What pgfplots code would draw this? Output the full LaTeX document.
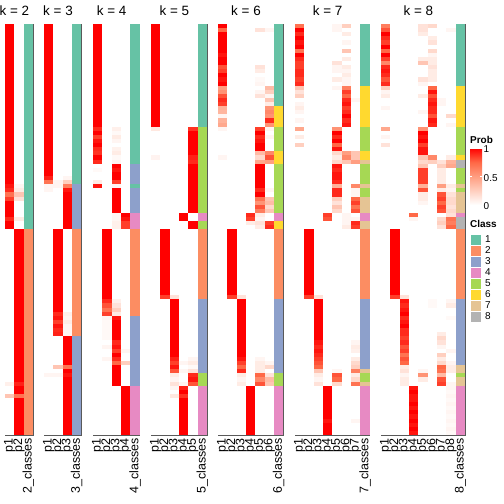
\documentclass[border=0pt]{standalone}
\usepackage{pgfplots}
\usepackage{pgfplotstable}
\pgfplotsset{compat=1.18}
\usepackage{fontspec}
\setmainfont{Liberation Sans}

\definecolor{cA}{RGB}{102,194,165}
\definecolor{cB}{RGB}{252,141,98}
\definecolor{cC}{RGB}{141,160,203}
\definecolor{cD}{RGB}{231,138,195}
\definecolor{cE}{RGB}{166,216,84}
\definecolor{cF}{RGB}{255,217,47}
\definecolor{cG}{RGB}{229,196,148}
\definecolor{cH}{RGB}{179,179,179}

\pgfdeclareplotmark{cell}{\pgfpathrectangle{\pgfqpoint{-4.72bp}{-2.1bp}}{\pgfqpoint{9.44bp}{4.2bp}}\pgfusepathqfill}
\pgfdeclareplotmark{lcell}{\pgfpathrectangle{\pgfqpoint{-5.5bp}{-5.5bp}}{\pgfqpoint{11bp}{11bp}}\pgfusepathqfillstroke}

\pgfplotstableread{
r a1 a2 cl
0 1 0 1
1 1 0 1
2 1 0 1
3 1 0 1
4 1 0 1
5 1 0 1
6 1 0 1
7 1 0 1
8 1 0 1
9 1 0 1
10 1 0 1
11 1 0 1
12 1 0 1
13 1 0 1
14 1 0 1
15 1 0 1
16 1 0 1
17 1 0 1
18 1 0 1
19 1 0 1
20 1 0 1
21 1 0 1
22 1 0 1
23 1 0 1
24 1 0 1
25 1 0 1
26 1 0 1
27 1 0 1
28 1 0 1
29 1 0 1
30 1 0 1
31 1 0 1
32 1 0 1
33 1 0 1
34 1 0 1
35 1 0 1
36 1 0 1
37 1 0 1
38 1 0 1
39 0.95 0.05 1
40 0.9 0.1 1
41 0.7 0.3 1
42 0.85 0.15 1
43 1 0 1
44 1 0 1
45 1 0 1
46 1 0 1
47 0.9 0.1 1
48 1 0 1
49 1 0 1
50 0 1 2
51 0 1 2
52 0 1 2
53 0 1 2
54 0 1 2
55 0 1 2
56 0 1 2
57 0 1 2
58 0 1 2
59 0 1 2
60 0 1 2
61 0 1 2
62 0 1 2
63 0 1 2
64 0 1 2
65 0 1 2
66 0 1 2
67 0 1 2
68 0 1 2
69 0 1 2
70 0 1 2
71 0 1 2
72 0 1 2
73 0 1 2
74 0 1 2
75 0 1 2
76 0 1 2
77 0 1 2
78 0 1 2
79 0 1 2
80 0 1 2
81 0 1 2
82 0 1 2
83 0 1 2
84 0 1 2
85 0 1 2
86 0 1 2
87 0.08 0.92 2
88 0 1 2
89 0 1 2
90 0.3 0.7 2
91 0 1 2
92 0 1 2
93 0 1 2
94 0 1 2
95 0 1 2
96 0 1 2
97 0 1 2
98 0 1 2
99 0 1 2
}\tKii

\pgfplotstableread{
r a1 a2 a3 cl
0 1 0 0 1
1 1 0 0 1
2 1 0 0 1
3 1 0 0 1
4 1 0 0 1
5 1 0 0 1
6 1 0 0 1
7 1 0 0 1
8 1 0 0 1
9 1 0 0 1
10 1 0 0 1
11 1 0 0 1
12 1 0 0 1
13 1 0 0 1
14 1 0 0 1
15 1 0 0 1
16 1 0 0 1
17 1 0 0 1
18 1 0 0 1
19 1 0 0 1
20 1 0 0 1
21 1 0 0 1
22 1 0 0 1
23 1 0 0 1
24 1 0 0 1
25 1 0 0 1
26 1 0 0 1
27 1 0 0 1
28 1 0 0 1
29 1 0 0 1
30 1 0 0 1
31 1 0 0 1
32 1 0 0 1
33 1 0 0 1
34 1 0 0 1
35 1 0 0 1
36 1 0 0 1
37 0.92 0 0.05 1
38 0.7 0.05 0.25 1
39 0.05 0.05 0.65 3
40 0.05 0 0.95 3
41 0 0 1 3
42 0 0 1 3
43 0 0 1 3
44 0 0 1 3
45 0 0 1 3
46 0 0 1 3
47 0 0 1 3
48 0 0 1 3
49 0 0 1 3
50 0 1 0 2
51 0 1 0 2
52 0 1 0 2
53 0 1 0 2
54 0 1 0 2
55 0 1 0 2
56 0 1 0 2
57 0 1 0 2
58 0 1 0 2
59 0 1 0 2
60 0 1 0 2
61 0 1 0 2
62 0 1 0 2
63 0 1 0 2
64 0 1 0 2
65 0 1 0 2
66 0 1 0 2
67 0 1 0 2
68 0 1 0 2
69 0 1 0 2
70 0 0.9 0.08 2
71 0 0.95 0.05 2
72 0 0.85 0.1 2
73 0 0.95 0.05 2
74 0 0.9 0.05 2
75 0 0.92 0.05 2
76 0 0 1 3
77 0 0 1 3
78 0 0 1 3
79 0 0 1 3
80 0 0 1 3
81 0 0 1 3
82 0 0 1 3
83 0 0.3 0.7 3
84 0 0 1 3
85 0.05 0.05 0.95 3
86 0 0 1 3
87 0 0 1 3
88 0 0 1 3
89 0 0 1 3
90 0 0 1 3
91 0 0 1 3
92 0 0 1 3
93 0 0 1 3
94 0 0 1 3
95 0 0 1 3
96 0 0 1 3
97 0 0 1 3
98 0 0 1 3
99 0 0 1 3
}\tKiii

\pgfplotstableread{
r a1 a2 a3 a4 cl
0 1 0 0 0 1
1 1 0 0 0 1
2 1 0 0 0 1
3 1 0 0 0 1
4 1 0 0 0 1
5 1 0 0 0 1
6 1 0 0 0 1
7 1 0 0 0 1
8 1 0 0 0 1
9 1 0 0 0 1
10 1 0 0 0 1
11 1 0 0 0 1
12 1 0 0 0 1
13 1 0 0 0 1
14 1 0 0 0 1
15 1 0 0 0 1
16 1 0 0 0 1
17 1 0 0 0 1
18 1 0 0 0 1
19 1 0 0 0 1
20 1 0 0 0 1
21 1 0 0 0 1
22 1 0 0 0 1
23 1 0 0 0 1
24 1 0 0 0 1
25 0.9 0 0.08 0 1
26 1 0 0.03 0 1
27 0.85 0 0.1 0 1
28 0.95 0 0.05 0 1
29 1 0 0 0 1
30 0.9 0 0.07 0 1
31 0.88 0 0.1 0 1
32 1 0 0.03 0 1
33 0.9 0 0.06 0 1
34 0 0 1 0 3
35 0.03 0 0.95 0 3
36 0 0 1 0 3
37 0 0 1 0 3
38 0.1 0 0.85 0 3
39 0.95 0 0.05 0 1
40 0 0 1 0 3
41 0 0 1 0 3
42 0 0 1 0 3
43 0 0 1 0 3
44 0 0 1 0 3
45 0 0 1 0 3
46 0 0 0.05 1 4
47 0 0 0.05 0.95 4
48 0 0 0.08 0.85 4
49 0 0 0.08 0.85 4
50 0 1 0 0 2
51 0 1 0 0 2
52 0 1 0 0 2
53 0 1 0 0 2
54 0 1 0 0 2
55 0 1 0 0 2
56 0 1 0 0 2
57 0 1 0 0 2
58 0 1 0 0 2
59 0 1 0 0 2
60 0 1 0 0 2
61 0 1 0 0 2
62 0 1 0 0 2
63 0 1 0 0 2
64 0 1 0 0 2
65 0 1 0 0 2
66 0 1 0 0 2
67 0 0.9 0.08 0 2
68 0 0.8 0.15 0 2
69 0 0.7 0.25 0 2
70 0 0.85 0.1 0 2
71 0 0.05 0.95 0 3
72 0 0.03 1 0 3
73 0 0.03 1 0 3
74 0 0.03 1 0 3
75 0 0.03 1 0 3
76 0 0.03 1 0 3
77 0 0 0.9 0 3
78 0 0.05 0.95 0 3
79 0 0 0.85 0.05 3
80 0 0 1 0 3
81 0 0.05 0.9 0 3
82 0 0 0.75 0.25 3
83 0 0 1 0 3
84 0 0 1 0 3
85 0 0 1 0 3
86 0 0 1 0 3
87 0 0 1 0 3
88 0 0 0 1 4
89 0 0 0 1 4
90 0 0 0 1 4
91 0 0 0 1 4
92 0 0 0 1 4
93 0 0 0 1 4
94 0 0 0 1 4
95 0 0 0 1 4
96 0 0 0 1 4
97 0 0 0 1 4
98 0 0 0 1 4
99 0 0 0 1 4
}\tKiv

\pgfplotstableread{
r a1 a2 a3 a4 a5 cl
0 1 0 0 0 0 1
1 1 0 0 0 0 1
2 1 0 0 0 0 1
3 1 0 0 0 0 1
4 1 0 0 0 0 1
5 1 0 0 0 0 1
6 1 0 0 0 0 1
7 1 0 0 0 0 1
8 1 0 0 0 0 1
9 1 0 0 0 0 1
10 1 0 0 0 0 1
11 1 0 0 0 0 1
12 1 0 0 0 0 1
13 1 0 0 0 0 1
14 1 0 0 0 0 1
15 1 0 0 0 0 1
16 1 0 0 0 0 1
17 1 0 0 0 0 1
18 1 0 0 0 0 1
19 1 0 0 0 0 1
20 1 0 0 0 0 1
21 1 0 0 0 0 1
22 1 0 0 0 0 1
23 1 0 0 0 0 1
24 1 0 0 0 0 1
25 0.12 0 0 0 0.88 5
26 0 0 0 0 1 5
27 0 0 0 0 1 5
28 0 0 0 0 1 5
29 0 0 0 0 1 5
30 0 0 0 0 1 5
31 0 0 0 0 1 5
32 0.06 0 0 0 0.92 5
33 0 0 0 0 0.9 5
34 0 0 0 0 1 5
35 0 0 0 0 1 5
36 0 0 0 0 1 5
37 0 0 0 0 1 5
38 0 0 0 0 1 5
39 0 0 0 0 1 5
40 0 0 0 0 1 5
41 0 0 0 0 1 5
42 0 0 0 0 1 5
43 0 0 0 0 1 5
44 0 0 0 0 1 5
45 0 0 0 0 1 5
46 0 0 0 1 0 4
47 0 0 0 1 0 4
48 0 0 0 0 1 5
49 0 0 0 0 1 5
50 0 1 0 0 0 2
51 0 1 0 0 0 2
52 0 1 0 0 0 2
53 0 1 0 0 0 2
54 0 1 0 0 0 2
55 0 1 0 0 0 2
56 0 1 0 0 0 2
57 0 1 0 0 0 2
58 0 1 0 0 0 2
59 0 1 0 0 0 2
60 0 1 0 0 0 2
61 0 1 0 0 0 2
62 0 1 0 0 0 2
63 0 1 0 0 0 2
64 0 1 0 0 0 2
65 0 1 0 0 0 2
66 0 0.85 0.15 0 0 2
67 0 0 1 0 0 3
68 0 0 1 0 0 3
69 0 0 1 0 0 3
70 0 0 1 0 0 3
71 0 0 1 0 0 3
72 0 0 1 0 0 3
73 0 0 1 0 0 3
74 0 0 1 0 0 3
75 0 0 1 0 0 3
76 0 0 1 0 0 3
77 0 0 1 0 0 3
78 0 0 1 0 0 3
79 0 0 1 0 0 3
80 0 0 1 0 0 3
81 0 0 0.92 0 0.05 3
82 0 0 0.85 0.05 0.1 3
83 0 0 0.95 0 0.03 3
84 0 0 0.8 0.05 0.15 3
85 0 0 0.1 0 0.9 5
86 0 0 0.05 0 0.95 5
87 0 0 0.15 0.05 0.8 5
88 0 0 0.05 0.92 0 4
89 0 0 0 1 0 4
90 0 0 0.12 0.88 0 4
91 0 0 0 1 0 4
92 0 0 0 1 0 4
93 0 0 0 1 0 4
94 0 0 0 1 0 4
95 0 0 0 1 0 4
96 0 0 0 1 0 4
97 0 0 0 1 0 4
98 0 0 0 1 0 4
99 0 0 0 1 0 4
}\tKv

\pgfplotstableread{
r a1 a2 a3 a4 a5 a6 cl
0 1 0 0 0 0 0 1
1 0.75 0 0 0 0.15 0.05 1
2 1 0 0 0 0 0 1
3 1 0 0 0 0 0 1
4 1 0 0 0 0 0 1
5 1 0 0 0 0 0 1
6 1 0 0 0 0 0 1
7 0.95 0 0 0 0 0 1
8 1 0 0 0 0 0 1
9 1 0 0 0 0 0 1
10 0.8 0 0 0 0.15 0 1
11 0.85 0 0 0 0.1 0 1
12 1 0 0 0 0 0 1
13 0.95 0 0 0 0.03 0 1
14 1 0 0 0 0.05 0 1
15 0.5 0 0 0 0 0.35 1
16 0.55 0 0 0 0.05 0.25 1
17 0.8 0 0 0 0.15 0.05 1
18 0.9 0 0 0 0 0.3 1
19 0.85 0 0 0 0 0.1 1
20 0.4 0 0 0 0 0.55 6
21 0.38 0 0 0 0 0.6 6
22 0.05 0 0 0 0 0.55 6
23 0.4 0 0 0 0 0.9 6
24 0.45 0 0 0 0 0.55 6
25 0.05 0 0 0 0.85 0.05 5
26 0 0 0 0 1 0 5
27 0 0 0 0 0.9 0.05 5
28 0 0 0 0 0.95 0 5
29 0 0 0 0 1 0 5
30 0 0 0 0 1 0 5
31 0 0 0 0 0.35 0.6 6
32 0.05 0 0 0 0.2 0.8 6
33 0 0 0 0 0.45 0.5 6
34 0 0 0 0 1 0 5
35 0 0 0 0 1 0 5
36 0 0 0 0 1 0 5
37 0 0 0 0 1 0 5
38 0 0 0 0 1 0 5
39 0 0 0 0 1 0 5
40 0 0 0 0 0.9 0.05 5
41 0 0 0 0 1 0 5
42 0 0 0 0 0.7 0.3 5
43 0 0 0 0 0.55 0.35 5
44 0 0 0 0 0.8 0.2 5
45 0 0 0 0 0.65 0.3 5
46 0 0 0 0.9 0.1 0 4
47 0 0 0 0.85 0.05 0 4
48 0 0 0 0.1 0.15 0.85 6
49 0 0 0 0 0.1 0.9 6
50 0 1 0 0 0 0 2
51 0 1 0 0 0 0 2
52 0 1 0 0 0 0 2
53 0 1 0 0 0 0 2
54 0 1 0 0 0 0 2
55 0 1 0 0 0 0 2
56 0 1 0 0 0 0 2
57 0 1 0 0 0 0 2
58 0 1 0 0 0 0 2
59 0 1 0 0 0 0 2
60 0 1 0 0 0 0 2
61 0 1 0 0 0 0 2
62 0 1 0 0 0 0 2
63 0 1 0 0 0 0 2
64 0 1 0 0 0 0 2
65 0 1 0 0 0 0 2
66 0 0.85 0.15 0 0 0 2
67 0 0 1 0 0 0 3
68 0 0 1 0 0 0 3
69 0 0 1 0 0 0 3
70 0 0 1 0 0 0 3
71 0 0 1 0 0 0 3
72 0 0 1 0 0 0 3
73 0 0 1 0 0 0 3
74 0 0 1 0 0 0 3
75 0 0 1 0 0 0 3
76 0 0 1 0 0 0 3
77 0 0 1 0 0 0 3
78 0 0 1 0 0 0 3
79 0 0 1 0 0 0 3
80 0 0 1 0 0 0 3
81 0 0 0.95 0 0.05 0 3
82 0 0 0.85 0 0.1 0.05 3
83 0 0 0.75 0 0.1 0.2 3
84 0 0 0.9 0 0.1 0 3
85 0 0 0.1 0 0.75 0.15 5
86 0 0 0.05 0 0.6 0.35 5
87 0 0 0.1 0 0.8 0.3 5
88 0 0 0 1 0 0 4
89 0 0 0 1 0 0 4
90 0 0 0 1 0 0 4
91 0 0 0 1 0 0 4
92 0 0 0 1 0 0 4
93 0 0 0 1 0 0 4
94 0 0 0 1 0 0 4
95 0 0 0 1 0 0 4
96 0 0 0 1 0 0 4
97 0 0 0 1 0 0 4
98 0 0 0 1 0 0 4
99 0 0 0 1 0 0 4
}\tKvi

\pgfplotstableread{
r a1 a2 a3 a4 a5 a6 a7 cl
0 0.7 0 0 0 0.05 0.25 0 1
1 1 0 0 0 0.05 0 0 1
2 0.9 0 0 0 0 0.1 0 1
3 1 0 0 0 0 0 0 1
4 0.95 0 0 0 0 0.05 0 1
5 1 0 0 0 0 0 0 1
6 0.7 0 0 0 0 0.3 0 1
7 1 0 0 0 0 0 0 1
8 0.9 0 0 0 0 0.1 0 1
9 0.85 0 0 0 0.15 0 0 1
10 0.85 0 0 0 0.05 0.1 0 1
11 0.9 0 0 0 0.05 0.05 0 1
12 0.9 0 0 0 0 0.1 0 1
13 0.85 0 0 0 0.1 0.05 0 1
14 0.9 0 0 0 0 0.05 0 1
15 0.3 0 0 0 0.05 0.65 0 6
16 0.15 0 0 0 0 0.85 0 6
17 0.25 0 0 0 0 0.75 0 6
18 0 0 0 0 0 0.9 0.05 6
19 0.05 0 0 0 0 0.95 0 6
20 0.1 0 0 0 0 0.85 0 6
21 0.05 0 0 0 0 0.9 0 6
22 0 0 0 0 0 1 0 6
23 0.05 0 0 0 0 0.9 0 6
24 0 0 0 0 0 0.95 0 6
25 0.45 0 0 0 0.55 0 0 5
26 0 0 0 0 1 0 0 5
27 0.1 0 0 0 0.9 0 0 5
28 0 0 0 0 1 0 0 5
29 0.25 0 0 0 0.75 0 0 5
30 0 0 0 0 0.95 0 0 5
31 0 0 0 0 0.2 0.5 0.3 6
32 0 0 0 0 0.1 0.6 0.3 6
33 0 0 0 0 0.2 0.3 0.5 7
34 0 0 0 0 0.95 0 0 5
35 0 0 0 0 0.9 0 0 5
36 0 0 0 0 0.95 0 0 5
37 0 0 0 0 0.95 0 0 5
38 0 0 0 0 0.9 0 0 5
39 0 0 0 0 0.4 0 0.6 7
40 0 0 0 0 0.9 0 0.05 5
41 0 0 0 0 0.9 0 0.05 5
42 0 0 0 0 0.25 0 0.75 7
43 0 0 0 0 0.15 0 0.85 7
44 0 0 0 0 0.3 0 0.7 7
45 0 0 0 0 0.2 0 0.8 7
46 0 0 0 0.85 0 0.05 0 4
47 0 0 0 0.8 0 0.05 0.05 4
48 0 0 0 0 0 0.05 0.9 7
49 0 0 0 0 0 0.1 0.85 7
50 0 1 0 0 0 0 0 2
51 0 1 0 0 0 0 0 2
52 0 1 0 0 0 0 0 2
53 0 1 0 0 0 0 0 2
54 0 1 0 0 0 0 0 2
55 0 1 0 0 0 0 0 2
56 0 1 0 0 0 0 0 2
57 0 1 0 0 0 0 0 2
58 0 1 0 0 0 0 0 2
59 0 1 0 0 0 0 0 2
60 0 1 0 0 0 0 0 2
61 0 1 0 0 0 0 0 2
62 0 1 0 0 0 0 0 2
63 0 1 0 0 0 0 0 2
64 0 1 0 0 0 0 0 2
65 0 1 0 0 0 0 0 2
66 0 0.85 0.15 0 0 0 0 2
67 0 0 1 0 0 0 0 3
68 0 0 1 0 0 0 0 3
69 0 0 1 0 0 0 0 3
70 0 0 1 0 0 0 0 3
71 0 0 1 0 0 0 0 3
72 0 0 1 0 0 0 0 3
73 0 0 1 0 0 0 0 3
74 0 0 1 0 0 0 0 3
75 0 0 1 0 0 0 0 3
76 0 0 1 0 0 0 0 3
77 0 0 0.95 0 0 0 0.05 3
78 0 0 0.9 0 0 0 0.1 3
79 0 0 0.95 0 0 0 0.08 3
80 0 0 0.9 0 0 0 0 3
81 0 0 0.85 0 0 0 0.1 3
82 0 0 0.8 0 0 0 0.2 3
83 0 0 0.75 0 0 0 0.25 3
84 0 0 0.3 0 0.05 0 0.65 7
85 0 0 0.1 0 0.8 0 0.1 5
86 0 0 0.05 0 0.75 0 0.2 5
87 0 0 0.15 0 0.2 0 0.7 7
88 0 0 0 1 0 0 0 4
89 0 0 0 1 0 0 0 4
90 0 0 0 1 0 0 0 4
91 0 0 0 1 0 0 0 4
92 0 0 0 1 0 0 0 4
93 0 0 0 1 0 0 0 4
94 0 0 0 1 0 0 0 4
95 0 0 0 1 0 0 0 4
96 0 0 0 0.95 0 0 0.05 4
97 0 0 0 1 0 0 0 4
98 0 0 0 1 0 0 0 4
99 0 0 0 1 0 0 0 4
}\tKvii

\pgfplotstableread{
r a1 a2 a3 a4 a5 a6 a7 a8 cl
0 0.65 0 0 0 0.15 0.2 0 0 1
1 0.8 0 0 0 0.15 0 0 0.05 1
2 1 0 0 0 0.1 0 0 0 1
3 0.9 0 0 0 0 0.1 0 0 1
4 0.85 0 0 0 0 0.15 0 0 1
5 1 0 0 0 0 0 0 0 1
6 0.75 0 0 0 0 0.2 0 0 1
7 1 0 0 0 0 0.05 0 0 1
8 0.85 0 0 0 0.1 0.1 0 0 1
9 0.6 0 0 0 0.3 0.1 0 0 1
10 0.9 0 0 0 0 0.15 0 0 1
11 0.95 0 0 0 0 0.1 0 0 1
12 0.9 0 0 0 0 0.1 0 0 1
13 0.8 0 0 0 0.15 0.1 0 0 1
14 0.9 0 0 0 0.05 0 0 0 1
15 0.25 0 0 0 0 0.75 0 0 6
16 0.05 0 0 0 0 0.95 0 0 6
17 0.1 0 0 0 0.1 0.8 0 0 6
18 0 0 0 0 0 0.9 0.05 0 6
19 0 0 0 0 0 0.95 0.05 0 6
20 0.05 0 0 0 0 0.9 0 0 6
21 0 0 0 0 0.05 0.9 0 0 6
22 0 0 0 0 0 0.8 0 0.2 6
23 0 0 0 0 0 0.95 0 0 6
24 0 0 0 0 0 0.9 0 0.05 6
25 0.45 0 0 0 0.55 0 0 0 5
26 0 0 0 0 1 0 0 0 5
27 0.05 0 0 0 0.95 0 0 0 5
28 0 0 0 0 1 0 0 0 5
29 0.15 0 0 0 0.85 0 0 0 5
30 0 0 0 0 0.95 0 0 0 5
31 0 0 0 0 0.95 0 0 0 5
32 0 0 0 0 0.3 0.6 0 0.1 6
33 0 0 0 0 0.2 0.25 0.15 0.4 8
34 0 0 0 0 0.3 0 0.25 0.45 8
35 0 0 0 0 0.85 0 0.1 0 5
36 0 0 0 0 0.85 0 0.1 0 5
37 0 0 0 0 0.85 0 0.1 0 5
38 0 0 0 0 0.85 0 0.1 0 5
39 0 0 0 0 0.4 0 0.5 0.1 7
40 0 0 0 0 0.8 0 0.1 0.05 5
41 0 0 0 0 0.1 0 0.8 0.15 7
42 0 0 0 0 0.1 0 0.85 0.2 7
43 0 0 0 0 0.05 0 0.75 0.2 7
44 0 0 0 0 0 0 0.85 0.15 7
45 0 0 0 0 0 0 0.8 0.2 7
46 0 0 0 0.75 0 0 0 0.15 4
47 0 0 0 0.05 0 0 0.2 0.7 8
48 0 0 0 0 0 0 0.25 0.65 8
49 0 0 0 0 0 0 0.15 0.75 8
50 0 1 0 0 0 0 0 0 2
51 0 1 0 0 0 0 0 0 2
52 0 1 0 0 0 0 0 0 2
53 0 1 0 0 0 0 0 0 2
54 0 1 0 0 0 0 0 0 2
55 0 1 0 0 0 0 0 0 2
56 0 1 0 0 0 0 0 0 2
57 0 1 0 0 0 0 0 0 2
58 0 1 0 0 0 0 0 0 2
59 0 1 0 0 0 0 0 0 2
60 0 1 0 0 0 0 0 0 2
61 0 1 0 0 0 0 0 0 2
62 0 1 0 0 0 0 0 0 2
63 0 1 0 0 0 0 0 0 2
64 0 1 0 0 0 0 0 0 2
65 0 1 0 0 0 0 0 0 2
66 0 0.85 0.15 0 0 0 0 0 2
67 0 0 0.95 0 0 0.03 0 0.05 3
68 0 0 0.9 0 0 0.03 0 0.1 3
69 0 0 0.95 0 0 0 0 0 3
70 0 0 1 0 0 0 0 0 3
71 0 0 0.9 0 0 0 0 0.03 3
72 0 0 0.95 0 0 0 0 0 3
73 0 0 1 0 0 0 0 0 3
74 0 0 0.9 0 0 0 0 0 3
75 0 0 0.9 0 0 0 0.1 0 3
76 0 0 0.85 0 0 0 0.2 0 3
77 0 0 0.9 0 0 0 0.15 0 3
78 0 0 0.8 0 0 0 0.05 0 3
79 0 0 0.85 0 0 0 0 0.05 3
80 0 0 0.7 0 0 0 0.25 0 3
81 0 0 0.8 0 0 0 0.1 0 3
82 0 0 0.75 0 0 0 0.2 0.05 3
83 0 0 0.1 0 0 0 0.75 0.1 7
84 0 0 0.15 0 0.05 0 0.7 0.1 7
85 0 0 0.05 0 0.55 0 0.35 0 5
86 0 0 0.1 0 0.1 0 0.8 0 7
87 0 0 0.1 0 0 0 0.85 0.05 7
88 0 0 0 0.95 0 0 0 0.05 4
89 0 0 0 1 0 0 0 0.03 4
90 0 0 0 0.95 0 0 0 0.05 4
91 0 0 0 0.95 0 0 0 0.03 4
92 0 0 0 1 0 0 0 0.05 4
93 0 0 0 0.95 0 0 0 0.03 4
94 0 0 0 1 0 0 0 0.05 4
95 0 0 0 0.95 0 0 0 0.03 4
96 0 0 0 1 0 0 0 0.05 4
97 0 0 0 0.95 0 0 0 0.03 4
98 0 0 0 1 0 0 0 0.05 4
99 0 0 0 0.95 0 0 0 0.03 4
}\tKviii

\pgfplotstableread{
x y c
1 1 1
1 2 2
1 3 3
1 4 4
1 5 5
1 6 6
1 7 7
1 8 8
}\tLeg

\pgfplotsset{
  hm/.style={
    scale only axis, height=411bp, anchor=north west,
    ymin=-0.5, ymax=99.5, y dir=reverse, ytick=\empty,
    xmin=0.5, major tick length=0pt,
    axis on top,
    axis line style={draw=black!65, line width=0.8bp},
    point meta min=0, point meta max=1,
    colormap={prob}{rgb255=(255,255,255) rgb255=(255,207,191) rgb255=(255,158,129) rgb255=(255,104,70) rgb255=(255,0,0)},
    title style={at={(#1,1)}, anchor=base, yshift=3bp, inner sep=0pt, font=\fontsize{13.5}{13.5}\selectfont},
    xticklabel style={rotate=90, anchor=east, inner xsep=3bp, inner ysep=0pt, font=\fontsize{12.5}{12.5}\selectfont},
  },
  pcol/.style={scatter, only marks, mark=cell, point meta=explicit,
    scatter/use mapped color={fill=mapped color}},
  ccol/.style={scatter, only marks, mark=cell, point meta=explicit symbolic,
    scatter/classes={1={fill=cA},2={fill=cB},3={fill=cC},4={fill=cD},
      5={fill=cE},6={fill=cF},7={fill=cG},8={fill=cH}}},
}

\begin{document}
\begin{tikzpicture}
\useasboundingbox (0,0) rectangle (504bp,-504bp);

\begin{axis}[hm=0.3333, at={(5bp,-24bp)}, width=28bp, xmax=3.5, xtick={1,...,3},
  xticklabels={p1,p2,2\_classes}, title={k = 2}]
\pgfplotsinvokeforeach{1,...,2}{\addplot[pcol] table[x expr=#1, y=r, meta=a#1]{\tKii};}
\addplot[ccol] table[x expr=3, y=r, meta=cl]{\tKii};
\end{axis}

\begin{axis}[hm=0.375, at={(44bp,-24bp)}, width=37.33bp, xmax=4.5, xtick={1,...,4},
  xticklabels={p1,p2,p3,3\_classes}, title={k = 3}]
\pgfplotsinvokeforeach{1,...,3}{\addplot[pcol] table[x expr=#1, y=r, meta=a#1]{\tKiii};}
\addplot[ccol] table[x expr=4, y=r, meta=cl]{\tKiii};
\end{axis}

\begin{axis}[hm=0.4, at={(93bp,-24bp)}, width=46.67bp, xmax=5.5, xtick={1,...,5},
  xticklabels={p1,p2,p3,p4,4\_classes}, title={k = 4}]
\pgfplotsinvokeforeach{1,...,4}{\addplot[pcol] table[x expr=#1, y=r, meta=a#1]{\tKiv};}
\addplot[ccol] table[x expr=5, y=r, meta=cl]{\tKiv};
\end{axis}

\begin{axis}[hm=0.4167, at={(151bp,-24bp)}, width=56bp, xmax=6.5, xtick={1,...,6},
  xticklabels={p1,p2,p3,p4,p5,5\_classes}, title={k = 5}]
\pgfplotsinvokeforeach{1,...,5}{\addplot[pcol] table[x expr=#1, y=r, meta=a#1]{\tKv};}
\addplot[ccol] table[x expr=6, y=r, meta=cl]{\tKv};
\end{axis}

\begin{axis}[hm=0.4286, at={(218bp,-24bp)}, width=65.33bp, xmax=7.5, xtick={1,...,7},
  xticklabels={p1,p2,p3,p4,p5,p6,6\_classes}, title={k = 6}]
\pgfplotsinvokeforeach{1,...,6}{\addplot[pcol] table[x expr=#1, y=r, meta=a#1]{\tKvi};}
\addplot[ccol] table[x expr=7, y=r, meta=cl]{\tKvi};
\end{axis}

\begin{axis}[hm=0.4375, at={(295bp,-24bp)}, width=74.67bp, xmax=8.5, xtick={1,...,8},
  xticklabels={p1,p2,p3,p4,p5,p6,p7,7\_classes}, title={k = 7}]
\pgfplotsinvokeforeach{1,...,7}{\addplot[pcol] table[x expr=#1, y=r, meta=a#1]{\tKvii};}
\addplot[ccol] table[x expr=8, y=r, meta=cl]{\tKvii};
\end{axis}

\begin{axis}[hm=0.4444, at={(381bp,-24bp)}, width=84bp, xmax=9.5, xtick={1,...,9},
  xticklabels={p1,p2,p3,p4,p5,p6,p7,p8,8\_classes}, title={k = 8},
  colorbar, colorbar shift/.style={xshift=5bp, yshift=-124bp},
  colorbar style={at={(parent axis.north east)}, anchor=north west,
    scale only axis, width=12bp, height=57bp,
    ytick={0,0.5,1}, yticklabels={0,0.5,1},
    yticklabel style={font=\fontsize{10}{10}\selectfont, inner xsep=1.5bp, yshift=-1.5bp},
    axis line style={draw=none}, major tick length=2bp,
    ytick style={draw=white, line width=0.6bp}, tick align=inside}]
\pgfplotsinvokeforeach{1,...,8}{\addplot[pcol] table[x expr=#1, y=r, meta=a#1]{\tKviii};}
\addplot[ccol] table[x expr=9, y=r, meta=cl]{\tKviii};
\end{axis}

\begin{axis}[at={(470bp,-234bp)}, anchor=north west, scale only axis,
  width=11bp, height=88bp, xmin=0.5, xmax=1.5, ymin=0.5, ymax=8.5, y dir=reverse,
  hide x axis, axis y line*=right, y axis line style={draw=none},
  ytick={1,...,8}, yticklabels={1,2,3,4,5,6,7,8}, major tick length=0pt,
  yticklabel style={font=\fontsize{10}{10}\selectfont, inner xsep=0pt, anchor=west, xshift=4bp},
  clip=false]
\addplot[scatter, only marks, mark=lcell, draw=white, line width=0.8bp,
  point meta=explicit symbolic,
  scatter/classes={1={fill=cA,draw=white},2={fill=cB,draw=white},3={fill=cC,draw=white},
  4={fill=cD,draw=white},5={fill=cE,draw=white},6={fill=cF,draw=white},
  7={fill=cG,draw=white},8={fill=cH,draw=white}}]
  table[x=x, y=y, meta=c]{\tLeg};
\end{axis}

\node[anchor=base west, inner sep=0pt, font=\bfseries\fontsize{10}{10}\selectfont] at (470bp,-143bp) {Prob};
\node[anchor=base west, inner sep=0pt, font=\bfseries\fontsize{10}{10}\selectfont] at (470bp,-227bp) {Class};
\end{tikzpicture}
\end{document}
